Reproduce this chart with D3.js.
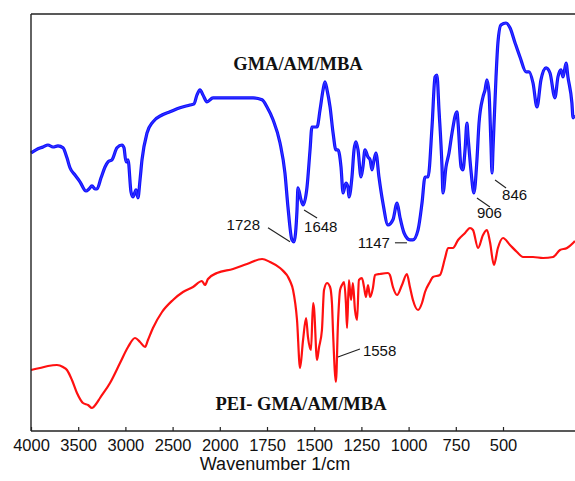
<!DOCTYPE html>
<html><head><meta charset="utf-8">
<script src="https://cdn.jsdelivr.net/npm/d3@7"></script>
<style>html,body{margin:0;padding:0;background:#fff;}svg{display:block;}</style>
</head><body>
<svg id="chart" width="575" height="481"></svg>
<script>
// ---- data ----
const tickLabels = [4000,3500,3000,2500,2000,1750,1500,1250,1000,750,500];

const blueWave = [4000,3947,3873,3820,3767,3714,3661,3619,3587,3534,3481,3417,3386,3354,3322,3301,3258,3216,3184,3142,3089,3036,3015,2994,2972,2941,2920,2898,2888,2867,2845,2824,2771,2708,2612,2528,2422,2316,2273,2242,2210,2178,2136,2072,1930,1824,1776,1750,1718,1681,1655,1639,1618,1607,1591,1586,1570,1559,1538,1522,1512,1485,1469,1453,1443,1432,1416,1400,1385,1374,1358,1347,1332,1321,1316,1300,1289,1279,1268,1252,1242,1231,1215,1204,1194,1183,1173,1157,1136,1109,1083,1061,1046,1024,993,977,950,929,913,897,876,860,850,839,823,818,802,786,770,744,738,722,712,701,691,685,670,654,638,627,606,595,585,574,564,558,553,537,527,511,484,463,436,410,378,362,341,320,299,272,251,225,209,193,182,166,156,135,129,119];
const blueT = [69.5,70.3,71,71.5,71,71.3,70.8,68.3,65.8,64,62.3,60,60.5,61.3,60.5,60.5,63.3,66,67.3,67.8,70.8,71.5,70.8,67.3,67.8,59.8,58.5,59.8,60.3,58.3,62.8,67.8,74.5,77.3,79,79.8,80.8,81.5,81.8,84,85.3,84,82.3,83.3,83.3,83.3,82.8,81,77.8,72,64.5,56,47.8,47.3,55.3,60.8,57.8,56.5,61,70.3,76,76,80.3,85.3,87.3,85.3,81,74.5,70.3,70.3,66,59.5,62,61,58.5,63.5,70.3,72.3,70.3,63.5,66,70.3,68.5,67.8,65.3,67.8,69.5,63.5,57,51.5,52.8,57,53.5,49.5,47.8,47.8,50.3,57,63.5,63.5,76,88.5,89,80.3,66,59.5,66,69.5,74.5,79.8,77,66,65.3,70.3,77,73.5,65.3,59.5,67.8,77,83.5,85.3,87.8,84.5,72,64.5,70.3,88.5,97,101.5,102,100.8,97,93.5,89.8,89.8,87,81,87.8,90.8,89.5,83.3,88.5,90.3,88.5,92,88.5,82,78.3,79];

const redWave = [4000,3905,3820,3725,3661,3619,3566,3513,3449,3396,3354,3311,3269,3163,3057,2972,2898,2845,2792,2761,2708,2612,2496,2390,2284,2189,2157,2125,2030,1930,1856,1776,1734,1681,1628,1612,1591,1575,1559,1543,1533,1517,1506,1501,1485,1475,1459,1448,1432,1416,1406,1400,1385,1374,1363,1353,1342,1332,1326,1316,1305,1295,1284,1273,1263,1247,1236,1226,1215,1204,1189,1178,1152,1109,1099,1083,1061,1035,1009,993,977,950,929,913,887,871,834,807,791,765,738,701,675,659,632,606,585,569,548,527,500,463,426,394,341,288,235,198,161,129,119];
const redT = [15.25,15.75,16.25,16.5,16,15.25,12.75,9.5,7,6.5,5.75,6.75,8.25,12,17,21,23.25,22.25,21,22.75,25.75,29.75,32.75,34.75,36,37.5,36.5,38,39.5,40.5,41.75,43,42.25,40.75,37.5,35.25,27.75,15.75,22.75,28.25,23.5,20.25,32,30.75,17.75,20.75,25.25,35.25,37,36,32,24.5,12.25,27,35.25,36.5,37.25,32,25.75,37.75,32.75,37,30.25,27.75,37.75,38.25,36,33.5,36.5,33.5,35.75,39,39.25,39.5,39,36,34,36.5,39.25,36,32.75,30.25,32,34.75,37.25,38.5,39,43.25,45.75,45.75,47.75,49.5,50.75,50.25,45.75,49,50.25,47.25,41.5,45.75,48.25,46.5,44.75,43.5,43.5,43.25,43.5,45.25,45.75,47,47.5];

const seriesNames = ["GMA/AM/MBA", "PEI- GMA/AM/MBA"];

// peak annotations: label, wavenumber and value of the marked point
const annotations = [
  {text:"1728", w:1607, v:47.3, l:[-26,-14,-4,0], t:[-34,-12], a:"end"},
  {text:"1648", w:1559, v:56.5, l:[1,5,14,13], t:[1,27], a:"start"},
  {text:"1147", w:977,  v:47.8, l:[-18,3,-6,3], t:[-23,8], a:"end"},
  {text:"906",  w:654,  v:59.5, l:[3,5,16,14], t:[3,25], a:"start"},
  {text:"846",  w:558,  v:64.5, l:[3,7,14,15], t:[10,27], a:"start"},
  {text:"1558", w:1385, v:12.25, l:[2,-25,24,-33], t:[27,-26], a:"start"}
];

// ---- chart ----
const svg = d3.select("#chart");
const W = 575, mLeft = 31, mTop = 14, mBottom = 431;
const x = d3.scaleLinear().domain([4000, 2000, 500]).range([mLeft, 219.8, 503]);
const y = d3.scaleLinear().domain([0, 104.25]).range([mBottom, mTop]);

const line = d3.line().x(d => x(d[0])).y(d => y(d[1])).curve(d3.curveMonotoneX);
const blue = blueWave.map((w,i) => [w, blueT[i]]);
const red = redWave.map((w,i) => [w, redT[i]]);

svg.append("path").datum(red).attr("d", line)
  .attr("fill","none").attr("stroke","#ff1010").attr("stroke-width",2.2).attr("stroke-linejoin","round");
svg.append("path").datum(blue).attr("d", line)
  .attr("fill","none").attr("stroke","#1010ff").attr("stroke-width",3.2).attr("stroke-linejoin","round");
svg.append("path").datum(blue).attr("d", line)
  .attr("fill","none").attr("stroke","#8080ff").attr("stroke-width",0.6).attr("stroke-opacity",0.6);

// frame
const frame = svg.append("g").attr("stroke","#222").attr("stroke-width",1.4).attr("fill","none");
frame.append("line").attr("x1",mLeft).attr("x2",W).attr("y1",mTop).attr("y2",mTop);
frame.append("line").attr("x1",mLeft).attr("x2",mLeft).attr("y1",mTop).attr("y2",mBottom);
frame.append("line").attr("x1",mLeft).attr("x2",W).attr("y1",mBottom).attr("y2",mBottom);

// x axis
const ax = svg.append("g").attr("transform",`translate(0,${mBottom})`)
  .call(d3.axisBottom(x).tickValues(tickLabels).tickSizeInner(-4).tickSizeOuter(0).tickPadding(8).tickFormat(d3.format("d")));
ax.select(".domain").remove();
ax.selectAll(".tick line").attr("stroke","#222").attr("stroke-width",1.2);
ax.selectAll(".tick text").attr("font-family","'Liberation Sans', Arial, sans-serif").attr("font-size",16.5).attr("fill","#111");

svg.append("text").attr("x",275).attr("y",470).attr("text-anchor","middle")
  .attr("font-family","'Liberation Sans', Arial, sans-serif").attr("font-size",18).attr("fill","#111")
  .text("Wavenumber 1/cm");

// series labels
svg.append("text").attr("x",298).attr("y",70).attr("text-anchor","middle")
  .attr("font-family","'Liberation Serif', 'Times New Roman', serif").attr("font-weight","bold").attr("font-size",18.5).attr("fill","#111")
  .text(seriesNames[0]);
svg.append("text").attr("x",301).attr("y",410).attr("text-anchor","middle")
  .attr("font-family","'Liberation Serif', 'Times New Roman', serif").attr("font-weight","bold").attr("font-size",18.5).attr("fill","#111")
  .text(seriesNames[1]);

// annotations
const ag = svg.append("g");
annotations.forEach(a => {
  const px = x(a.w), py = y(a.v);
  ag.append("line").attr("x1",px+a.l[0]).attr("y1",py+a.l[1]).attr("x2",px+a.l[2]).attr("y2",py+a.l[3])
    .attr("stroke","#222").attr("stroke-width",1.1);
  ag.append("text").attr("x",px+a.t[0]).attr("y",py+a.t[1]).attr("text-anchor",a.a)
    .attr("font-family","'Liberation Sans', Arial, sans-serif").attr("font-size",15).attr("fill","#111")
    .text(a.text);
});
</script>
</body></html>
